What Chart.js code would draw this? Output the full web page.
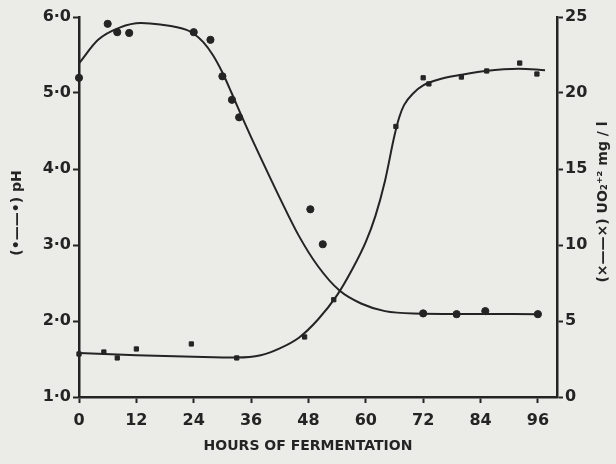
<!DOCTYPE html>
<html>
<head>
<meta charset="utf-8">
<script src="https://cdn.jsdelivr.net/npm/chart.js@4"></script>
<style>
  body { margin: 0; background: #ebebe8; }
</style>
</head>
<body>
<canvas id="chart" width="616" height="464"></canvas>
<script>
// pH readings (dots) and the fitted pH curve
var phHours = [0, 6, 8, 10.5, 24, 27.5, 30, 32, 33.5, 48.4, 51, 72, 79, 85, 96]
var phValues = [5.2, 5.91, 5.8, 5.79, 5.8, 5.7, 5.22, 4.91, 4.68, 3.47, 3.01, 2.1, 2.09, 2.13, 2.09]
var phCurveHours = [0, 4, 8.5, 13, 17, 22.5, 24, 26, 28, 30, 32, 34, 36, 38, 42, 46, 50, 54.5, 59, 64, 70, 96]
var phCurveValues = [5.39, 5.7, 5.86, 5.92, 5.9, 5.83, 5.78, 5.67, 5.5, 5.27, 4.99, 4.7, 4.42, 4.15, 3.62, 3.12, 2.72, 2.4, 2.23, 2.13, 2.1, 2.09]

// UO2+2 readings (crosses) and the fitted curve, mg/l
var uoHours = [0, 5.2, 8, 12, 23.5, 33, 47.2, 53.3, 66.3, 72, 73.2, 80, 85.3, 92.2, 95.8]
var uoValues = [2.83, 2.96, 2.57, 3.16, 3.49, 2.57, 3.95, 6.4, 17.8, 21.0, 20.6, 21.05, 21.45, 21.97, 21.25]
var uoCurveHours = [0, 12, 24, 33, 38, 42, 46, 50, 54, 57, 60, 62, 64, 66, 67, 68, 70, 72, 76, 80, 85, 92, 97.5]
var uoCurveValues = [2.9, 2.75, 2.65, 2.6, 2.75, 3.2, 3.9, 5.1, 6.7, 8.3, 10.2, 11.9, 14.2, 17.2, 18.4, 19.2, 20.0, 20.5, 20.95, 21.2, 21.45, 21.6, 21.5]

var xTicks = [0, 12, 24, 36, 48, 60, 72, 84, 96]
var phTicks = [1, 2, 3, 4, 5, 6]
var uoTicks = [0, 5, 10, 15, 20, 25]

var ink = '#242424'
var tickFont = { family: 'DejaVu Sans', size: 16, weight: 'bold' }

function pairs(xs, ys) {
  return xs.map(function (x, i) { return { x: x, y: ys[i] } })
}

function setTicks(list) {
  return function (scale) {
    scale.ticks = list.map(function (v) { return { value: v } })
  }
}

var axisGrid = { drawOnChartArea: false, drawTicks: true, tickLength: 6, tickColor: ink, tickWidth: 2 }
var axisBorder = { color: ink, width: 2.5 }

// axis titles, drawn rotated bottom-to-top like the original
var titles = {
  id: 'titles',
  afterDraw: function (chart) {
    var ctx = chart.ctx
    ctx.save()
    ctx.fillStyle = ink
    ctx.textAlign = 'center'
    ctx.textBaseline = 'middle'
    ctx.font = 'bold 14px "DejaVu Sans"'
    ctx.fillText('HOURS OF FERMENTATION', 308, 446)

    ctx.save()
    ctx.translate(17, 213)
    ctx.rotate(-Math.PI / 2)
    ctx.fillText('(•——•) pH', 0, 0)
    ctx.restore()

    ctx.save()
    ctx.translate(603, 202)
    ctx.rotate(-Math.PI / 2)
    ctx.fillText('(×——×) UO₂⁺² mg / l', 0, 0)
    ctx.restore()
    ctx.restore()
  }
}

new Chart(document.getElementById('chart'), {
  type: 'scatter',
  data: {
    datasets: [
      {
        label: 'pH',
        data: pairs(phHours, phValues),
        yAxisID: 'y',
        pointStyle: 'circle',
        pointRadius: 3.6,
        backgroundColor: ink,
        borderColor: ink,
        clip: false
      },
      {
        label: 'pH fit',
        type: 'line',
        data: pairs(phCurveHours, phCurveValues),
        yAxisID: 'y',
        borderColor: ink,
        borderWidth: 2,
        pointRadius: 0,
        cubicInterpolationMode: 'monotone',
        fill: false
      },
      {
        label: 'UO2+2',
        data: pairs(uoHours, uoValues),
        yAxisID: 'y2',
        pointStyle: 'rect',
        pointRadius: 3,
        backgroundColor: ink,
        borderColor: ink,
        clip: false
      },
      {
        label: 'UO2+2 fit',
        type: 'line',
        data: pairs(uoCurveHours, uoCurveValues),
        yAxisID: 'y2',
        borderColor: ink,
        borderWidth: 2,
        pointRadius: 0,
        cubicInterpolationMode: 'monotone',
        fill: false
      }
    ]
  },
  options: {
    responsive: false,
    animation: false,
    layout: { padding: { top: 17 } },
    plugins: { legend: { display: false }, tooltip: { enabled: false } },
    scales: {
      x: {
        type: 'linear',
        min: 0,
        max: 100,
        afterBuildTicks: setTicks(xTicks),
        afterFit: function (s) { s.height = 67 },
        ticks: { color: ink, font: tickFont, padding: 8, maxRotation: 0 },
        grid: axisGrid,
        border: axisBorder
      },
      y: {
        position: 'left',
        min: 1,
        max: 6,
        afterBuildTicks: setTicks(phTicks),
        afterFit: function (s) { s.width = 79 },
        ticks: {
          color: ink, font: tickFont, padding: 2,
          callback: function (v) { return v.toFixed(1).replace('.', '·') }
        },
        grid: axisGrid,
        border: axisBorder
      },
      y2: {
        position: 'right',
        min: 0,
        max: 25,
        afterBuildTicks: setTicks(uoTicks),
        afterFit: function (s) { s.width = 59 },
        ticks: { color: ink, font: tickFont, padding: 2 },
        grid: axisGrid,
        border: axisBorder
      }
    }
  },
  plugins: [titles]
})
</script>
</body>
</html>
